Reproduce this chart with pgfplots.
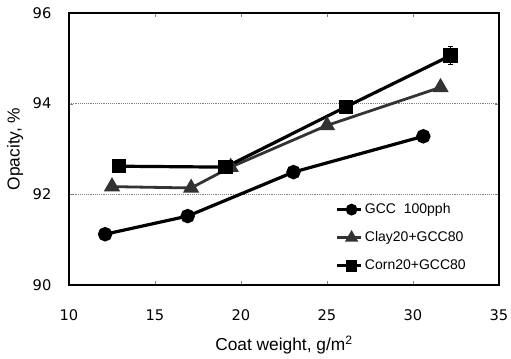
\documentclass[border=0pt]{standalone}
\usepackage{pgfplots}
\pgfplotsset{compat=1.18}
\usepackage{fontspec}
\setmainfont{Liberation Sans}
\newfontfamily\tickfont{DejaVu Sans}
\begin{document}
\begin{tikzpicture}
\begin{axis}[
  name=ax,
  scale only axis,
  width=322.5pt, height=204pt,
  xmin=10, xmax=35, ymin=90, ymax=96,
  xtick={10,15,20,25,30,35},
  ytick={90,92,94,96},
  ymajorgrids,
  grid style={gray, densely dotted, line width=0.6pt},
  tick align=inside,
  major tick length=3pt,
  axis line style={line width=1pt},
  /pgf/number format/assume math mode=true,
  ticklabel style={font=\tickfont\fontsize{11}{13}\selectfont},
  xticklabel style={anchor=center, yshift=-23pt},
  yticklabel style={anchor=east, inner xsep=0pt, xshift=-13pt},
  label style={font=\fontsize{13}{15}\selectfont},
  xlabel={Coat weight, g/m\textsuperscript{2}},
  ylabel={Opacity, \%},
  xlabel style={at={(axis description cs:0.5,-0.22)}, anchor=center},
  ylabel style={at={(axis description cs:-0.125,0.5)}, anchor=center},
  legend style={at={(0.61,0.32)}, anchor=north west, draw=none, fill=none,
    font=\fontsize{10.5}{12}\selectfont, row sep=8pt},
  legend cell align=left,
  legend image code/.code={
    \draw[#1] (0cm,0cm) -- (0.62cm,0cm);
    \path[#1, only marks, mark options={scale=0.75}] plot coordinates {(0.38cm,0cm)};
  },
]
\addplot[black, line width=2.4pt, mark=*, mark size=4.2pt, mark options={solid}]
  coordinates {(12.1,91.12) (16.9,91.52) (23.05,92.49) (30.6,93.28)};
\addlegendentry{GCC\ \ 100pph}
\addplot[black!80, line width=2.1pt, mark=triangle*, mark size=5pt, mark options={solid}]
  coordinates {(12.5,92.17) (17.1,92.14) (19.4,92.6) (25.0,93.52) (31.6,94.36)};
\addlegendentry{Clay20+GCC80}
\addplot[black, line width=2.4pt, mark=square*, mark size=4.2pt, mark options={solid},
  error bars/.cd, y dir=both, y explicit, error bar style={line width=0.8pt}, error mark options={rotate=90, mark size=2pt}]
  coordinates {(12.9,92.62) +- (0,0) (19.1,92.6) +- (0,0) (26.1,93.93) +- (0,0) (32.18,95.06) +- (0,0.2)};
\addlegendentry{Corn20+GCC80}
\end{axis}
\pgfresetboundingbox
\useasboundingbox ([xshift=-51.75pt,yshift=-55.5pt]ax.south west) rectangle ([xshift=9pt,yshift=9.75pt]ax.north east);
\end{tikzpicture}
\end{document}
